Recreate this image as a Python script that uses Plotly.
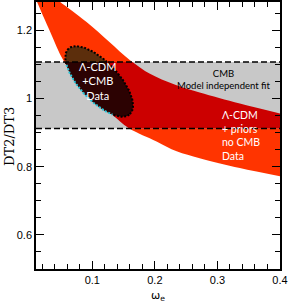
import numpy as np
import plotly.graph_objects as go

# ---- data ----
# Lambda-CDM + priors (no CMB) allowed band: upper and lower edges
upper_omega = [0.0364, 0.0486, 0.0903, 0.1273, 0.1593, 0.1914, 0.2315, 0.2716, 0.3358, 0.4]
upper_dt = [1.30, 1.283, 1.225, 1.166, 1.114, 1.073, 1.041, 1.0175, 0.985, 0.956]
lower_omega = [0.0076, 0.0117, 0.0326, 0.055, 0.0951, 0.1385, 0.1593, 0.2027, 0.2348, 0.2716, 0.3358, 0.4]
lower_dt = [1.30, 1.283, 1.196, 1.108, 1.0175, 0.942, 0.912, 0.874, 0.845, 0.825, 0.796, 0.772]
# CMB model independent fit band (DT2/DT3 limits)
cmb_band = [0.912, 1.107]
# Lambda-CDM + CMB contour (ellipse: centre, major and minor semi-axis vectors)
ellipse_center = [0.111, 1.050]
ellipse_major = [0.0491, -0.0959]
ellipse_minor = [0.0228, 0.0387]
# axes
x_range = [0.01, 0.4]
y_range = [0.5, 1.283]
x_ticks = [0.1, 0.2, 0.3, 0.4]
y_ticks = [0.6, 0.8, 1.0, 1.2]

ORANGE = "rgb(255,52,0)"
DARKRED = "rgb(204,0,0)"
GRAY = "rgb(200,200,200)"
BROWN = "rgb(92,46,12)"
DARK = "rgb(44,2,2)"
CYAN = "rgb(40,200,220)"

t = np.linspace(0, 2 * np.pi, 181)
ex = ellipse_center[0] + np.cos(t) * ellipse_major[0] + np.sin(t) * ellipse_minor[0]
ey = ellipse_center[1] + np.cos(t) * ellipse_major[1] + np.sin(t) * ellipse_minor[1]

# outline part lying outside the no-CMB band is drawn cyan
low_at = np.interp(ex, lower_omega, lower_dt)
outside = ey < low_at
ex_black = np.where(outside, np.nan, ex)
ey_black = np.where(outside, np.nan, ey)
ex_cyan = np.where(outside, ex, np.nan)
ey_cyan = np.where(outside, ey, np.nan)

fig = go.Figure()
# main subplot: no-CMB band, CMB band, contour (part outside CMB band)
fig.add_trace(go.Scatter(x=lower_omega, y=lower_dt, mode="lines", line=dict(width=0, shape="spline"),
                         xaxis="x", yaxis="y", hoverinfo="skip"))
fig.add_trace(go.Scatter(x=upper_omega, y=upper_dt, mode="lines", line=dict(width=0, shape="spline"),
                         fill="tonexty", fillcolor=ORANGE, xaxis="x", yaxis="y", hoverinfo="skip"))
fig.add_trace(go.Scatter(x=[x_range[0], x_range[1], x_range[1], x_range[0]],
                         y=[cmb_band[0], cmb_band[0], cmb_band[1], cmb_band[1]],
                         mode="lines", line=dict(width=0), fill="toself", fillcolor=GRAY,
                         xaxis="x", yaxis="y", hoverinfo="skip"))
fig.add_trace(go.Scatter(x=ex, y=ey, mode="lines", line=dict(width=0), fill="toself", fillcolor=BROWN,
                         xaxis="x", yaxis="y", hoverinfo="skip"))
# subplot clipped to the CMB band: overlap regions
fig.add_trace(go.Scatter(x=lower_omega, y=lower_dt, mode="lines", line=dict(width=0, shape="spline"),
                         xaxis="x2", yaxis="y2", hoverinfo="skip"))
fig.add_trace(go.Scatter(x=upper_omega, y=upper_dt, mode="lines", line=dict(width=0, shape="spline"),
                         fill="tonexty", fillcolor=DARKRED, xaxis="x2", yaxis="y2", hoverinfo="skip"))
fig.add_trace(go.Scatter(x=ex, y=ey, mode="lines", line=dict(width=0), fill="toself", fillcolor=DARK,
                         xaxis="x2", yaxis="y2", hoverinfo="skip"))
# top subplot: dotted contour outline
fig.add_trace(go.Scatter(x=ex_black, y=ey_black, mode="lines",
                         line=dict(color="black", width=2, dash="2px,1.6px"),
                         xaxis="x3", yaxis="y3", hoverinfo="skip"))
fig.add_trace(go.Scatter(x=ex_cyan, y=ey_cyan, mode="lines",
                         line=dict(color=CYAN, width=2, dash="2px,1.6px"),
                         xaxis="x3", yaxis="y3", hoverinfo="skip"))

span = y_range[1] - y_range[0]
d0 = (cmb_band[0] - y_range[0]) / span
d1 = (cmb_band[1] - y_range[0]) / span

hidden = dict(visible=False, showgrid=False, zeroline=False)
tickfont = dict(family="Liberation Sans", size=11, color="black")
fig.update_layout(
    width=289, height=304,
    margin=dict(l=36, r=9, t=0, b=35),
    paper_bgcolor="white", plot_bgcolor="rgba(0,0,0,0)",
    showlegend=False,
    xaxis=dict(domain=[0, 1], range=x_range, tickvals=x_ticks,
               ticks="inside", ticklen=8, tickwidth=1.3, tickcolor="black",
               showline=True, linecolor="black", linewidth=1.5, mirror="ticks",
               minor=dict(dtick=0.02, tick0=0, ticks="inside", ticklen=5, tickwidth=1, tickcolor="black"),
               showgrid=False, zeroline=False, tickfont=tickfont),
    yaxis=dict(domain=[0, 1], range=y_range, tickvals=y_ticks,
               ticks="inside", ticklen=8, tickwidth=1.3, tickcolor="black",
               showline=True, linecolor="black", linewidth=1.5, mirror="ticks",
               minor=dict(dtick=0.05, tick0=0, ticks="inside", ticklen=5, tickwidth=1, tickcolor="black"),
               showgrid=False, zeroline=False, tickfont=tickfont),
    xaxis2=dict(domain=[0, 1], range=x_range, anchor="y2", **hidden),
    # right-side ticks repeated above the overlap fill
    yaxis2=dict(domain=[d0, d1], range=cmb_band, anchor="x2", side="right", visible=True,
                tickvals=[v for v in y_ticks if cmb_band[0] <= v <= cmb_band[1]],
                ticks="inside", ticklen=8, tickwidth=1.3, tickcolor="black",
                minor=dict(dtick=0.05, tick0=0, ticks="inside", ticklen=5, tickwidth=1, tickcolor="black"),
                showline=False, showticklabels=False, showgrid=False, zeroline=False),
    xaxis3=dict(domain=[0, 1], range=x_range, anchor="y3", **hidden),
    yaxis3=dict(domain=[0, 1], range=y_range, anchor="x3", **hidden),
)

for yv in cmb_band:
    fig.add_shape(type="line", xref="x", yref="y", x0=x_range[0], x1=x_range[1], y0=yv, y1=yv,
                  line=dict(color="black", width=1.5, dash="6px,3px"), layer="above")

lab = dict(family="Lato", color="white")
fig.add_annotation(x=0.108, y=1.0526, xref="x", yref="y", text="Λ-CDM<br>+CMB<br>Data",
                   showarrow=False, font=dict(size=11, **lab), align="center")
fig.add_annotation(x=0.310, y=1.0555, xref="x", yref="y", text="CMB<br>Model independent fit",
                   showarrow=False, font=dict(family="Lato", size=9.5, color="black"), align="center")
fig.add_annotation(x=0.3037, y=0.8905, xref="x", yref="y", text="Λ-CDM<br>+ priors<br>no CMB<br>Data",
                   showarrow=False, font=dict(size=10.5, **lab), align="left", xanchor="left")
fig.add_annotation(x=-0.111, y=0.498, xref="paper", yref="paper", text="DT2/DT3", showarrow=False,
                   textangle=-90, xanchor="center", yanchor="middle",
                   font=dict(family="DejaVu Serif", size=13, color="black"))
fig.add_annotation(x=0.5, y=-0.1, xref="paper", yref="paper", text="ω<sub>e</sub>", showarrow=False,
                   xanchor="center", yanchor="middle",
                   font=dict(family="DejaVu Sans", size=11, color="black"))

fig.write_html("out.html", config={"displayModeBar": False},
               post_script="document.body.style.margin='0';")
